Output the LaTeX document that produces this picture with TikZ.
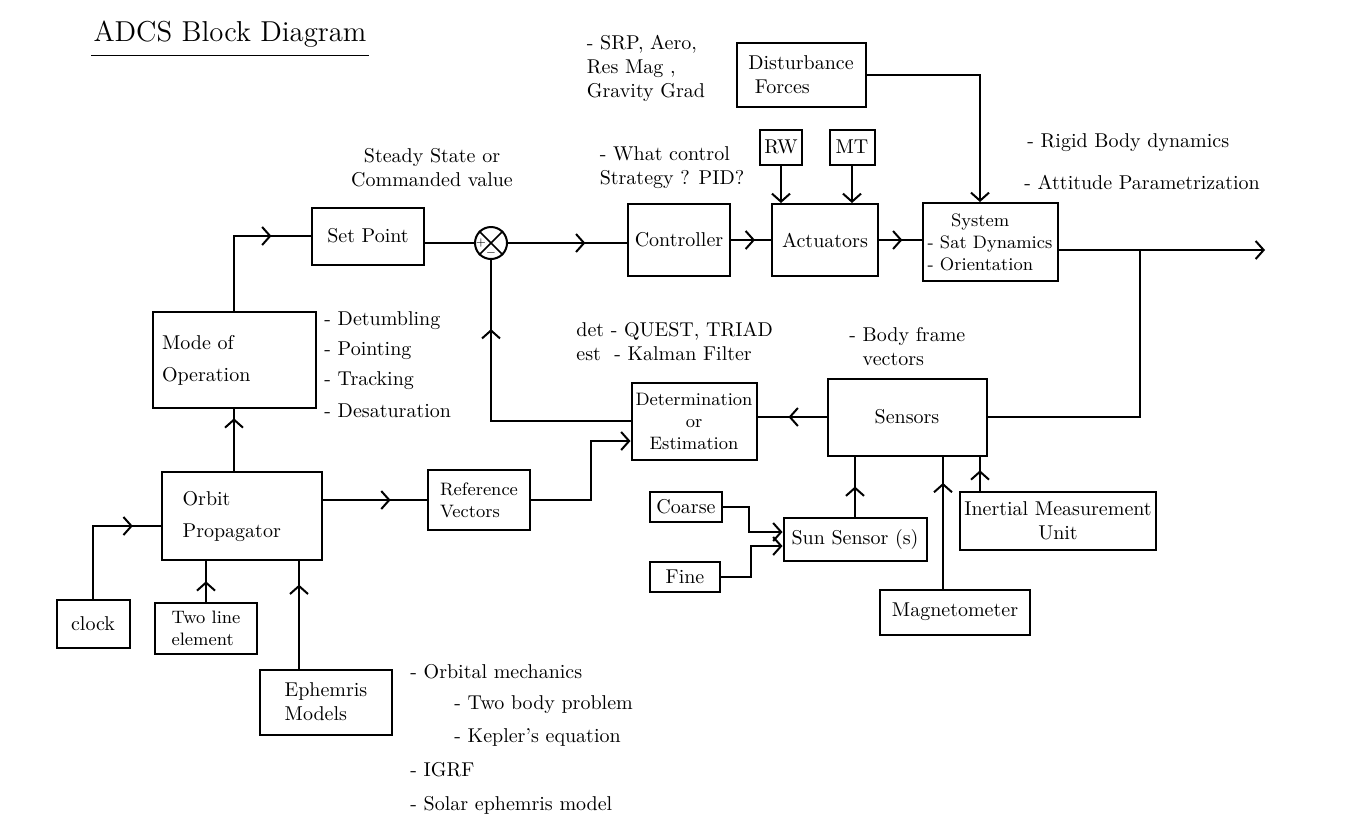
\documentclass[tikz,border=0pt]{standalone}
\usepackage{xcolor}
\usepackage{tikz}
\usetikzlibrary{arrows.meta,decorations.markings}

\begin{document}
\begin{tikzpicture}[x=0.5pt,y=-0.5pt]
	\tikzstyle{value} = [align=left, inner sep=1pt]
	\tikzstyle{block} = [draw, line width=1pt, align=center, inner sep=2pt]
	\tikzset{boxsize/.style 2 args = {minimum width=#1*0.5pt, minimum height=#2*0.5pt}}
	\tikzset{edge/.style = {line width=1pt, > = {Straight Barb[length=4pt,width=9pt]}}}
	\tikzset{flow/.style = {edge, decoration={markings, mark=at position #1 with {\arrow{>}}}, postaction={decorate}}, flow/.default=0.5}
	
	\useasboundingbox (0,0) rectangle (1354,837);
	
	% title
	\node[value, font=\Large](title) at (230,34) {ADCS Block Diagram};
	\draw[line width=0.8pt] ([yshift=-3pt]title.south west) -- ([yshift=-3pt]title.south east);
	
	% main loop
	\node[block, boxsize={112}{57}](setpoint) at (368,236) {Set Point};
	\node[draw, circle, line width=1pt, minimum size=16pt, inner sep=0pt](sum) at (491,243) {};
	\draw[line width=0.8pt] (sum.north west) -- (sum.south east) (sum.north east) -- (sum.south west);
	\node[inner sep=0pt, font=\tiny](plus) at ([xshift=-5pt]sum.center) {$+$};
	\node[inner sep=0pt, font=\tiny](minus) at ([yshift=-5pt]sum.center) {$-$};
	\node[block, boxsize={102}{72}](controller) at (679,240) {Controller};
	\node[block, boxsize={106}{72}](actuators) at (825,240) {Actuators};
	\node[block, boxsize={37}{35}](rw) at (781,147) {RW};
	\node[block, boxsize={45}{35}](mt) at (852,147) {MT};
	\node[block, boxsize={129}{64}, align=left](dist) at (801,75) {Disturbance\\ \ Forces};
	\node[block, boxsize={135}{78}, align=left, font=\small](system) at (990,242) {\hspace*{1.3em}System\\- Sat Dynamics\\- Orientation};
	\coordinate (out) at (1265,250);
	\coordinate (branch) at (1140,250);
	
	% feedback
	\node[block, boxsize={159}{77}](sensors) at (907,417) {Sensors};
	\node[block, boxsize={125}{77}, font=\small](det) at (694,421) {Determination\\or\\Estimation};
	\node[block, boxsize={102}{60}, font=\small, align=left](refvec) at (479,500) {Reference\\Vectors};
	
	% orbit side
	\node[block, boxsize={163}{96}, align=left, text width=72pt](mode) at (234,360) {Mode of\\[4pt]Operation};
	\node[block, boxsize={160}{88}, align=left, text width=66pt](orbit) at (242,516) {\ Orbit\\[4pt]\ Propagator};
	\node[block, boxsize={73}{48}](clock) at (93,624) {clock};
	\node[block, boxsize={102}{51}, font=\small, align=left](tle) at (206,628) {Two line\\element};
	\node[block, boxsize={132}{65}, align=left](ephem) at (326,702) {Ephemris\\Models};
	
	% sensor hardware
	\node[block, boxsize={72}{30}](coarse) at (686,507) {Coarse};
	\node[block, boxsize={70}{30}](fine) at (685,577) {Fine};
	\node[block, boxsize={143}{43}](sun) at (855,539) {Sun Sensor (s)};
	\node[block, boxsize={150}{45}](mag) at (955,612) {Magnetometer};
	\node[block, boxsize={193}{58}](imu) at (1058,521) {Inertial Measurement\\Unit};
	
	% notes
	\node[value, align=center](steady) at (432,168) {Steady State or\\Commanded value};
	\node[value](srp) at (646,68) {- SRP, Aero,\\Res Mag ,\\Gravity Grad};
	\node[value](strategy) at (672,168) {- What control\\Strategy ? PID?};
	\node[value, anchor=west](rigid) at (1025,143) {- Rigid Body dynamics};
	\node[value, anchor=west](attitude) at (1022,182) {- Attitude Parametrization};
	\foreach \t [count=\i] in {Detumbling, Pointing, Tracking, Desaturation}
		\node[value, anchor=west](mode\i) at (322,291+30*\i) {- \t};
	\node[value, anchor=west](algo) at (574,341) {det - QUEST, TRIAD\\est \ - Kalman Filter};
	\node[value, anchor=west](body) at (847,347) {- Body frame\\\ \ vectors};
	\node[value, anchor=west](orbmech) at (408,672) {- Orbital mechanics};
	\node[value, anchor=west](twobody) at (452,705) {- Two body problem};
	\node[value, anchor=west](kepler) at (452,737) {- Kepler's equation};
	\node[value, anchor=west](igrf) at (408,770) {- IGRF};
	\node[value, anchor=west](solar) at (408,805) {- Solar ephemris model};
	
	% connections
	\coordinate (ephtop) at ([xshift=20pt]ephem.north west);
	\coordinate (magtop) at ([xshift=-6pt]mag.north);
	\coordinate (imutop) at ([xshift=-39pt]imu.north);
	\coordinate (systop) at ([xshift=-5pt]system.north);
	
	\draw[flow=0.74] (mode.north) |- (setpoint.west);
	\draw[edge] (setpoint.east |- sum.west) -- (sum.west);
	\draw[flow=0.65] (sum.east) -- (controller.west |- sum.east);
	\draw[flow=0.6] (controller.east) -- (actuators.west);
	\draw[flow=0.55] (actuators.east) -- (system.west |- actuators.east);
	\draw[edge,->] (rw.south) -- (rw.south |- actuators.north);
	\draw[edge,->] (mt.south) -- (mt.south |- actuators.north);
	\draw[edge,->] (dist.east) -| (systop);
	\draw[edge,->] (system.east |- out) -- (out);
	\draw[edge] (branch) |- (sensors.east);
	\draw[flow=0.55] (sensors.west) -- (det.east |- sensors.west);
	\draw[flow=0.77] (det.west) -| (sum.south);
	\draw[flow=0.85] (orbit.north -| mode.south) -- (mode.south);
	\draw[flow=0.8] (clock.north) |- ([yshift=-5pt]orbit.west);
	\draw[flow=0.5] (tle.north) -- (tle.north |- orbit.south);
	\draw[flow=0.78] (ephtop) -- (ephtop |- orbit.south);
	\draw[flow=0.65] (orbit.east |- refvec.west) -- (refvec.west);
	\draw[edge,->] (refvec.east) -- ++(60,0) |- ([yshift=-10pt]det.west);
	\draw[edge,->] (coarse.east) -- ++(26,0) |- ([yshift=3.5pt]sun.west);
	\draw[edge,->] (fine.east) -- ++(30,0) |- ([yshift=-3.5pt]sun.west);
	\draw[flow=0.5] (sun.north) -- (sun.north |- sensors.south);
	\draw[flow=0.8] (magtop) -- (magtop |- sensors.south);
	\draw[flow=0.6] (imutop) -- (imutop |- sensors.south);
\end{tikzpicture}
\end{document}
